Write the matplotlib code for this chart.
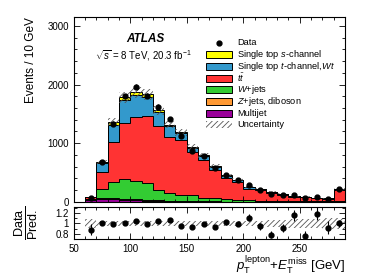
import numpy as np
import matplotlib
matplotlib.use("Agg")
import matplotlib.pyplot as plt
from matplotlib.patches import Rectangle
from matplotlib.ticker import MultipleLocator, FixedLocator, FixedFormatter

plt.rcParams['font.family'] = ['Liberation Sans', 'DejaVu Sans']
plt.rcParams['mathtext.fontset'] = 'custom'
plt.rcParams['mathtext.rm'] = 'Liberation Sans'
plt.rcParams['mathtext.it'] = 'Liberation Sans:italic'
plt.rcParams['mathtext.bf'] = 'Liberation Sans:bold'
plt.rcParams['hatch.linewidth'] = 0.6

# bins of 10 GeV from 60 to 290
edges = np.arange(60, 300, 10)

multijet = [40, 55, 50, 35, 30, 22, 15, 12, 10, 8, 6, 5, 4, 3, 3, 2, 2, 2, 1, 1, 1, 1, 2]
zjets = [5, 10, 15, 15, 15, 14, 10, 8, 7, 6, 5, 4, 3, 3, 2, 2, 2, 2, 1, 1, 1, 1, 3]
wjets = [12, 151, 280, 340, 315, 286, 178, 127, 98, 96, 59, 51, 43, 34, 25, 18, 16, 13, 10, 9, 7, 6, 15]
ttbar = [20, 299, 680, 950, 1080, 1138, 1087, 953, 937, 742, 641, 480, 365, 301, 198, 184, 140, 108, 73, 72, 52, 48, 180]
tchan = [5, 150, 292, 392, 377, 325, 238, 193, 124, 70, 77, 62, 35, 36, 25, 15, 12, 10, 8, 7, 6, 5, 12]
schan = [2, 17, 45, 50, 50, 45, 30, 25, 15, 10, 8, 6, 5, 4, 3, 3, 3, 3, 2, 2, 2, 2, 3]
unc = [0.08, 0.05, 0.05, 0.05, 0.05, 0.05, 0.05, 0.05, 0.05, 0.05, 0.05, 0.05, 0.05,
       0.05, 0.05, 0.05, 0.06, 0.06, 0.08, 0.09, 0.09, 0.10, 0.10]
data = [74, 682, 1335, 1800, 1960, 1812, 1620, 1410, 1120, 870, 780, 570, 465, 380, 285,
        211, 137, 125, 110, 70, 82, 58, 215]

layers = [
    (multijet, '#990099', 'Multijet'),
    (zjets, '#ff9933', '$Z$+jets, diboson'),
    (wjets, '#33cc33', '$W$+jets'),
    (ttbar, '#ff3333', r'$t\bar{t}$'),
    (tchan, '#3399cc', 'Single top $t$-channel,$Wt$'),
    (schan, '#ffff00', 'Single top $s$-channel'),
]

cums = np.cumsum([np.array(l[0], float) for l in layers], axis=0)
total = cums[-1]
data = np.array(data, float)
unc = np.array(unc)
centers = edges[:-1] + 5

fig = plt.figure(figsize=(3.82, 2.74), dpi=100)
ax = fig.add_axes([0.193, 0.263, 0.71, 0.675])
rax = fig.add_axes([0.193, 0.128, 0.71, 0.117])

# stack drawn from the top down
for i in range(len(layers) - 1, -1, -1):
    ax.stairs(cums[i], edges, baseline=0, fill=True, facecolor=layers[i][1],
              edgecolor='black', linewidth=0.7)
ax.stairs(total * (1 + unc), edges, baseline=total * (1 - unc), fill=True,
          facecolor='none', edgecolor='#555555', hatch='//////', linewidth=0)
ax.errorbar(centers, data, yerr=np.sqrt(data), fmt='o', color='black',
            markersize=3.5, elinewidth=0.8, capsize=0)

ax.set_xlim(50, 290)
ax.set_ylim(0, 3150)
ax.set_ylabel('Events / 10 GeV', fontsize=8.5, loc='top')
ax.yaxis.set_label_coords(-0.135, 1.0)
ax.xaxis.set_major_locator(MultipleLocator(50))
ax.xaxis.set_minor_locator(MultipleLocator(10))
ax.yaxis.set_major_locator(MultipleLocator(1000))
ax.yaxis.set_minor_locator(MultipleLocator(200))
ax.tick_params(labelbottom=False)

ax.text(0.265, 0.88, 'ATLAS', transform=ax.transAxes, fontsize=8.5,
        fontweight='bold', fontstyle='italic', ha='center', va='center')
ax.text(0.255, 0.79, r'$\sqrt{s}$ = 8 TeV, 20.3 fb$^{-1}$', transform=ax.transAxes,
        fontsize=7, ha='center', va='center')

# legend, laid out row by row in axes fraction
leg_labels = ['Data'] + [l[2] for l in layers[::-1]] + ['Uncertainty']
leg_colors = [None] + [l[1] for l in layers[::-1]] + ['hatch']
row0, dy = 1 - 26 / 185, 11.7 / 185
bx, bw, bh, tx = 0.488, 0.095, 0.038, 0.602
for i, (lab, col) in enumerate(zip(leg_labels, leg_colors)):
    y = row0 - i * dy
    if col is None:
        ax.plot([bx + bw / 2], [y], 'o', color='black', markersize=3.5,
                transform=ax.transAxes, clip_on=False)
    elif col == 'hatch':
        ax.add_patch(Rectangle((bx, y - bh / 2), bw, bh, transform=ax.transAxes,
                               facecolor='none', edgecolor='#555555', hatch='//////',
                               linewidth=0))
    else:
        ax.add_patch(Rectangle((bx, y - bh / 2), bw, bh, transform=ax.transAxes,
                               facecolor=col, edgecolor='black', linewidth=0.7))
    ax.text(tx, y, lab, transform=ax.transAxes, fontsize=6.7, ha='left', va='center')

# ratio panel
rax.stairs(1 + unc, edges, baseline=1 - unc, fill=True, facecolor='none',
           edgecolor='#555555', hatch='//////', linewidth=0)
ratio = data / total
rax.errorbar(centers, ratio, yerr=np.sqrt(data) / total, fmt='o', color='black',
             markersize=3.5, elinewidth=0.8, capsize=0)
rax.set_xlim(50, 290)
rax.set_ylim(0.7, 1.32)
rax.xaxis.set_major_locator(MultipleLocator(50))
rax.xaxis.set_minor_locator(MultipleLocator(10))
rax.yaxis.set_major_locator(FixedLocator([0.8, 1.0, 1.2]))
rax.yaxis.set_major_formatter(FixedFormatter(['0.8', '1', '1.2']))
rax.yaxis.set_minor_locator(MultipleLocator(0.1))
rax.set_ylabel(r'$\frac{\mathrm{Data}}{\mathrm{Pred.}}$', fontsize=13)
rax.yaxis.set_label_coords(-0.125, 0.5)
rax.set_xlabel(r'$p_{\mathrm{T}}^{\mathrm{lepton}}$+$E_{\mathrm{T}}^{\mathrm{miss}}$ [GeV]',
               fontsize=9.5, loc='right', labelpad=0)

for a in (ax, rax):
    a.tick_params(which='both', direction='in', top=True, right=True, labelsize=7,
                  width=0.6)
    a.tick_params(which='major', length=4)
    a.tick_params(which='minor', length=2)
    for s in a.spines.values():
        s.set_linewidth(0.8)

fig.savefig('out.png', dpi=100)
